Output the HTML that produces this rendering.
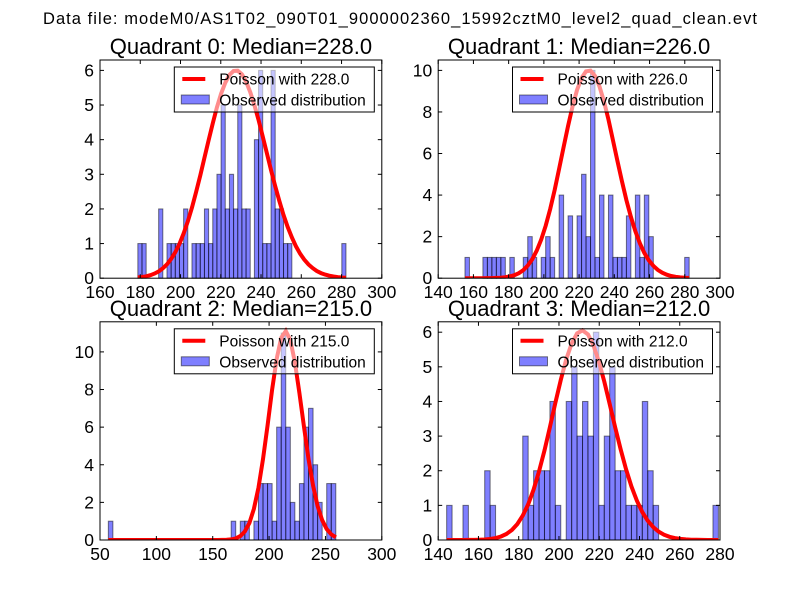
<!DOCTYPE html>
<html><head><meta charset="utf-8"><style>
body{margin:0;background:#fff}
svg{display:block;font-family:"Liberation Sans",sans-serif}
</style></head><body>
<svg id="fig" width="800" height="600" viewBox="0 0 800 600">
<rect width="800" height="600" fill="#fff"/>
<text x="400" y="24" text-anchor="middle" font-size="16.5" textLength="714">Data file: modeM0/AS1T02_090T01_9000002360_15992cztM0_level2_quad_clean.evt</text>
</svg>
<script>
// Quadrant data: [bin index, count] for non-empty bins (50 bins each)
const q0Bins = [[0,1],[1,1],[5,2],[7,1],[8,1],[9,1],[10,1],[11,2],[13,1],[14,1],[15,1],[16,2],[17,1],[18,2],[19,3],[20,5],[21,2],[22,3],[23,2],[24,5],[25,2],[26,2],[28,4],[29,6],[30,1],[31,1],[32,6],[33,2],[34,2],[35,1],[36,1],[49,1]];
const q1Bins = [[0,1],[4,1],[5,1],[6,1],[7,1],[8,1],[10,1],[13,1],[14,2],[15,1],[17,1],[18,2],[19,1],[21,4],[23,3],[25,3],[26,5],[27,2],[28,10],[29,1],[30,4],[32,4],[33,1],[34,1],[35,1],[36,3],[38,4],[39,1],[40,4],[41,2],[49,1]];
const q2Bins = [[0,1],[27,1],[29,1],[30,1],[32,1],[33,3],[34,3],[35,3],[36,1],[37,6],[38,11],[39,6],[40,2],[41,1],[42,3],[43,6],[44,7],[45,4],[46,2],[48,3],[49,3]];
const q3Bins = [[0,1],[3,1],[7,2],[8,1],[14,3],[15,1],[16,2],[17,2],[18,2],[19,4],[20,1],[22,4],[23,5],[24,3],[25,4],[26,3],[27,6],[28,1],[29,3],[30,5],[31,2],[32,2],[33,1],[34,1],[35,1],[36,4],[37,2],[38,1],[49,1]];
const dataMin = [178.8, 155.2, 57.4, 144.2];
const dataMax = [282.2, 282.5, 259.2, 279.2];
const medians = [228.0, 226.0, 215.0, 212.0];
const curvePeaks = [6.0, 10.0, 11.1, 6.05];
const xTicks = [[160,180,200,220,240,260,280,300],[140,160,180,200,220,240,260,280,300],[50,100,150,200,250,300],[140,160,180,200,220,240,260,280]];
const xLims = [[160,300],[140,300],[50,300],[140,280]];
const yTicks = [[0,1,2,3,4,5,6],[0,2,4,6,8,10],[0,2,4,6,8,10],[0,1,2,3,4,5,6]];
const yMax = [6.3, 10.5, 11.6, 6.3];

const svg = document.getElementById('fig');
const NS = 'http://www.w3.org/2000/svg';
function mk(tag, attrs, parent){const e=document.createElementNS(NS,tag);for(const k in attrs)e.setAttribute(k,attrs[k]);(parent||svg).appendChild(e);return e;}
function lgamma(z){ return (z-0.5)*Math.log(z)-z+0.5*Math.log(2*Math.PI)+1/(12*z)-1/(360*z*z*z); }
const allBins=[q0Bins,q1Bins,q2Bins,q3Bins];
const boxes=[[100,60],[438.2,60],[100,321.8],[438.2,321.8]];
const W=281.8,H=218.2;
for(let q=0;q<4;q++){
  const [L,T]=boxes[q];
  const R=L+W,B=T+H;
  const g=mk('g',{});
  
  
  const xs=v=>L+(v-xLims[q][0])/(xLims[q][1]-xLims[q][0])*W;
  const ys=v=>B-v/yMax[q]*H;
  const clip=mk('clipPath',{id:'c'+q},g);mk('rect',{x:L,y:T,width:W,height:H},clip);
  const mu=medians[q],bw=(dataMax[q]-dataMin[q])/50;
  // bars
  allBins[q].forEach(([idx,c])=>{
    const x0=xs(dataMin[q]+idx*bw),x1=xs(dataMin[q]+(idx+1)*bw);
    const r=mk('rect',{x:x0,y:ys(c),width:x1-x0,height:ys(0)-ys(c),fill:'#0000ff','fill-opacity':0.5,stroke:'#000','stroke-opacity':0.5,'stroke-width':1},g);
    
    
  });
  // poisson curve
  const base=mu*Math.log(mu)-mu-lgamma(mu+1);
  let pts=[];
  for(let i=0;i<=50;i++){const k=dataMin[q]+i*bw;const lp=k*Math.log(mu)-mu-lgamma(k+1);pts.push(xs(k).toFixed(1)+','+ys(curvePeaks[q]*Math.exp(lp-base)).toFixed(1));}
  const pl=mk('polyline',{points:pts.join(' '),fill:'none',stroke:'#ff0000','stroke-width':4,'clip-path':'url(#c'+q+')'},g);
  
  
  // legend
  const lg=mk('g',{},g);
  
  
  const lx=R-207.5,ly=T+7;
  mk('rect',{x:lx,y:ly,width:200,height:45,fill:'#fff','fill-opacity':0.55,stroke:'#000','stroke-width':1},lg);
  mk('line',{x1:lx+8,y1:ly+12,x2:lx+31,y2:ly+12,stroke:'#ff0000','stroke-width':4},lg);
  const t1=mk('text',{x:lx+45,y:ly+17.5,'font-size':15.5},lg);t1.textContent='Poisson with '+medians[q].toFixed(1);
  mk('rect',{x:lx+7,y:ly+28,width:28,height:9,fill:'#0000ff','fill-opacity':0.5,stroke:'#000','stroke-opacity':0.5},lg);
  const t2=mk('text',{x:lx+45,y:ly+38.5,'font-size':15.5},lg);t2.textContent='Observed distribution';
  // frame
  mk('rect',{x:L,y:T,width:W,height:H,fill:'none',stroke:'#000','stroke-width':1},g);
  xTicks[q].forEach(v=>{const x=xs(v);
    mk('line',{x1:x,y1:B,x2:x,y2:B-4,stroke:'#000'},g);mk('line',{x1:x,y1:T,x2:x,y2:T+4,stroke:'#000'},g);
    const t=mk('text',{x:x,y:B+20,'font-size':17.5,'text-anchor':'middle'},g);t.textContent=v;
    
    
  });
  yTicks[q].forEach(v=>{const y=ys(v);
    mk('line',{x1:L,y1:y,x2:L+4,y2:y,stroke:'#000'},g);mk('line',{x1:R,y1:y,x2:R-4,y2:y,stroke:'#000'},g);
    const t=mk('text',{x:L-6,y:y+6,'font-size':17.5,'text-anchor':'end'},g);t.textContent=v;
    
    
  });
  const tt=mk('text',{x:L+W/2,y:T-6,'font-size':22,'text-anchor':'middle'},g);
  tt.textContent='Quadrant '+q+': Median='+medians[q].toFixed(1);
  
  
}
</script>
</body></html>
